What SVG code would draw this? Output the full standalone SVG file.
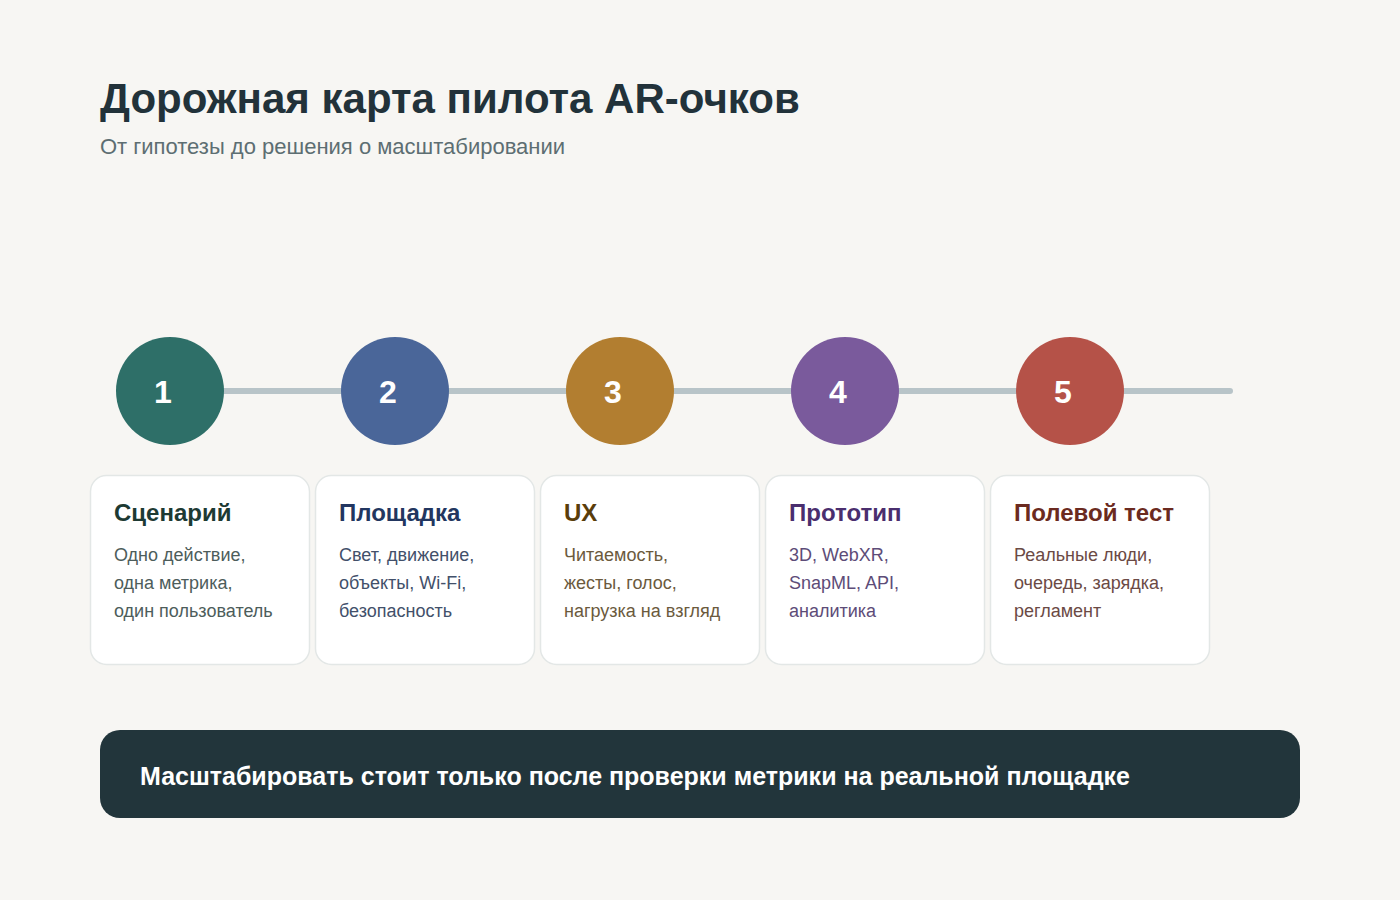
<svg xmlns="http://www.w3.org/2000/svg" width="1400" height="900" viewBox="0 0 1400 900">
<style>
.t{font-family:"Liberation Sans",Arial,sans-serif}
.h1{font-size:42px;font-weight:700;fill:#22323a}
.sub{font-size:22px;fill:#5d6e72}
.num{font-size:32px;font-weight:700;fill:#fff;text-anchor:middle}
.card{fill:#fff;stroke:#e3e7e6;stroke-width:1.5}
.ct{font-size:24px;font-weight:700}
.cb{font-size:18px}
.ban{font-size:25px;font-weight:700;fill:#fff}
</style>
<rect width="1400" height="900" fill="#f7f6f3"/>
<text class="t h1" x="100" y="113">Дорожная карта пилота AR-очков</text>
<text class="t sub" x="100" y="154">От гипотезы до решения о масштабировании</text>
<g id="connectors">
<line x1="170" y1="391" x2="1230" y2="391" stroke="#b8c4c8" stroke-width="6" stroke-linecap="round"/>
</g>
<g id="step1">
<circle cx="170" cy="391" r="54" fill="#2e6f68"/>
<text class="t num" x="163" y="403">1</text>
<rect class="card" x="90.5" y="475.5" width="219" height="189" rx="16"/>
<text class="t ct" x="114" y="521" fill="#1d3a33">Сценарий</text>
<text class="t cb" fill="#4d5d5b"><tspan x="114" y="561">Одно действие,</tspan><tspan x="114" y="589">одна метрика,</tspan><tspan x="114" y="617">один пользователь</tspan></text>
</g>
<g id="step2">
<circle cx="395" cy="391" r="54" fill="#4a6699"/>
<text class="t num" x="388" y="403">2</text>
<rect class="card" x="315.5" y="475.5" width="219" height="189" rx="16"/>
<text class="t ct" x="339" y="521" fill="#223660">Площадка</text>
<text class="t cb" fill="#42506a"><tspan x="339" y="561">Свет, движение,</tspan><tspan x="339" y="589">объекты, Wi-Fi,</tspan><tspan x="339" y="617">безопасность</tspan></text>
</g>
<g id="step3">
<circle cx="620" cy="391" r="54" fill="#b27e30"/>
<text class="t num" x="613" y="403">3</text>
<rect class="card" x="540.5" y="475.5" width="219" height="189" rx="16"/>
<text class="t ct" x="564" y="521" fill="#5a3d0a">UX</text>
<text class="t cb" fill="#6b5a3d"><tspan x="564" y="561">Читаемость,</tspan><tspan x="564" y="589">жесты, голос,</tspan><tspan x="564" y="617">нагрузка на взгляд</tspan></text>
</g>
<g id="step4">
<circle cx="845" cy="391" r="54" fill="#7a5a9c"/>
<text class="t num" x="838" y="403">4</text>
<rect class="card" x="765.5" y="475.5" width="219" height="189" rx="16"/>
<text class="t ct" x="789" y="521" fill="#4a2e6e">Прототип</text>
<text class="t cb" fill="#5d4c78"><tspan x="789" y="561">3D, WebXR,</tspan><tspan x="789" y="589">SnapML, API,</tspan><tspan x="789" y="617">аналитика</tspan></text>
</g>
<g id="step5">
<circle cx="1070" cy="391" r="54" fill="#b55248"/>
<text class="t num" x="1063" y="403">5</text>
<rect class="card" x="990.5" y="475.5" width="219" height="189" rx="16"/>
<text class="t ct" x="1014" y="521" fill="#6b2a20">Полевой тест</text>
<text class="t cb" fill="#6b4a45"><tspan x="1014" y="561">Реальные люди,</tspan><tspan x="1014" y="589">очередь, зарядка,</tspan><tspan x="1014" y="617">регламент</tspan></text>
</g>
<g id="banner">
<rect x="100" y="730" width="1200" height="88" rx="20" fill="#22353b"/>
<text class="t ban" x="140" y="785">Масштабировать стоит только после проверки метрики на реальной площадке</text>
</g>
</svg>
